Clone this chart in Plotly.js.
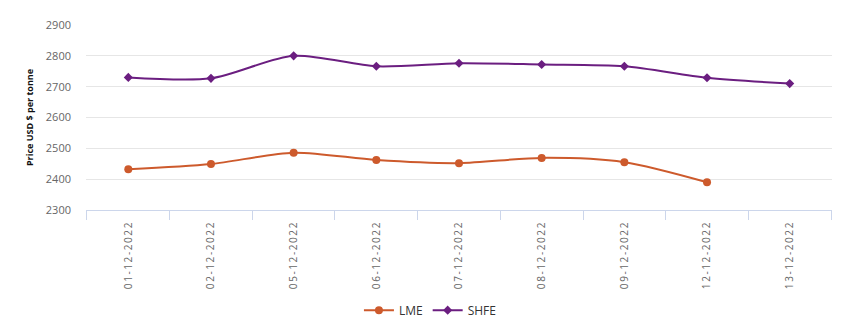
<!DOCTYPE html>
<html>
<head>
<meta charset="utf-8">
<script src="https://cdn.plot.ly/plotly-3.0.1.min.js"></script>
<style>
html,body{margin:0;padding:0;background:#fff;}
#chart{width:844px;height:331px;}
.xtick text{letter-spacing:1.6px;}
</style>
</head>
<body>
<div id="chart"></div>
<script>
const dates = ["01-12-2022","02-12-2022","05-12-2022","06-12-2022","07-12-2022","08-12-2022","09-12-2022","12-12-2022","13-12-2022"];
const lme = [2432, 2449, 2486, 2462, 2452, 2469, 2455, 2390, null];
const shfe = [2730, 2727, 2800, 2766, 2776, 2772, 2766, 2729, 2710];
const yTicks = [2300, 2400, 2500, 2600, 2700, 2800, 2900];

const traces = [
  {x: dates, y: lme, name: "LME", type: "scatter", mode: "lines+markers",
   line: {color: "#CD5A2C", width: 2, shape: "spline", smoothing: 0.8},
   marker: {symbol: "circle", size: 8, color: "#CD5A2C"}},
  {x: dates, y: shfe, name: "SHFE", type: "scatter", mode: "lines+markers",
   line: {color: "#6B1E80", width: 2, shape: "spline", smoothing: 0.8},
   marker: {symbol: "diamond", size: 7, color: "#6B1E80"}}
];

const layout = {
  width: 844, height: 331,
  margin: {l: 86, r: 12, t: 25, b: 121},
  paper_bgcolor: "#fff", plot_bgcolor: "#fff",
  font: {family: "Open Sans, sans-serif", color: "#666"},
  showlegend: true,
  legend: {orientation: "h", x: 0.51, xref: "container", xanchor: "center",
           y: 0.063, yref: "container", yanchor: "middle",
           font: {size: 12, color: "#333"}, itemwidth: 30, traceorder: "normal"},
  xaxis: {type: "category", tickangle: -90, tickson: "boundaries",
          ticks: "outside", ticklen: 9, tickcolor: "#ccd6eb",
          showline: true, linecolor: "#ccd6eb", linewidth: 1,
          showgrid: false, zeroline: false, ticklabelstandoff: 6,
          tickfont: {size: 10, color: "#666"}, automargin: false},
  yaxis: {range: [2300, 2900], tickvals: yTicks, ticktext: yTicks.map(String),
          showgrid: true, gridcolor: "#e6e6e6", zeroline: false, showline: false,
          tickfont: {size: 11, color: "#666"}, ticklabelstandoff: 14,
          title: {text: "Price USD $ per tonne", font: {size: 9, color: "#111", weight: "bold"}, standoff: 10},
          automargin: false}
};

Plotly.newPlot("chart", traces, layout, {displayModeBar: false, staticPlot: true});
</script>
</body>
</html>
